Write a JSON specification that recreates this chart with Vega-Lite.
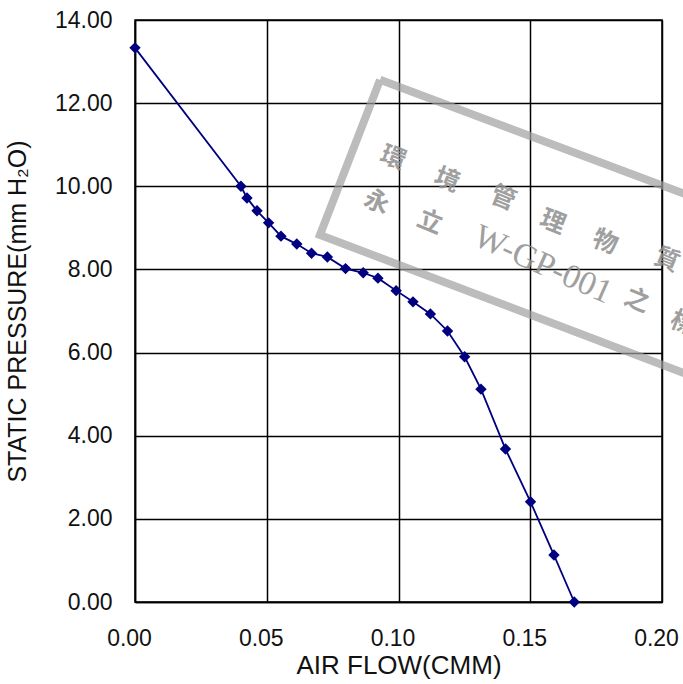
{
  "$schema": "https://vega.github.io/schema/vega-lite/v6.json",
  "autosize": {"type": "none"},
  "padding": {"left": 135, "top": 20, "right": 21, "bottom": 82},
  "width": 527,
  "height": 582,
  "background": "white",
  "config": {
    "view": {"stroke": "#000", "strokeWidth": 1.5},
    "font": "Liberation Sans"
  },
  "datasets": {
    "curve": [
      {"flow": 0.0, "pressure": 13.33},
      {"flow": 0.0402, "pressure": 10.0},
      {"flow": 0.0425, "pressure": 9.72},
      {"flow": 0.0463, "pressure": 9.41},
      {"flow": 0.0507, "pressure": 9.12},
      {"flow": 0.0554, "pressure": 8.8},
      {"flow": 0.0614, "pressure": 8.61},
      {"flow": 0.0670, "pressure": 8.39},
      {"flow": 0.0730, "pressure": 8.3},
      {"flow": 0.0799, "pressure": 8.02},
      {"flow": 0.0866, "pressure": 7.92},
      {"flow": 0.0922, "pressure": 7.79},
      {"flow": 0.0991, "pressure": 7.49},
      {"flow": 0.1055, "pressure": 7.22},
      {"flow": 0.1121, "pressure": 6.93},
      {"flow": 0.1186, "pressure": 6.52},
      {"flow": 0.1251, "pressure": 5.9},
      {"flow": 0.1313, "pressure": 5.12},
      {"flow": 0.1406, "pressure": 3.68},
      {"flow": 0.1501, "pressure": 2.41},
      {"flow": 0.1590, "pressure": 1.13},
      {"flow": 0.1667, "pressure": 0.0}
    ],
    "stampBox": [
      {"i": 0, "flow": 0.0930, "pressure": 12.56},
      {"i": 1, "flow": 0.2372, "pressure": 9.14},
      {"i": 2, "flow": 0.2372, "pressure": 4.81},
      {"i": 3, "flow": 0.0702, "pressure": 8.83},
      {"i": 4, "flow": 0.0930, "pressure": 12.56}
    ],
    "stampCjk": [
      {"t": "環", "flow": 0.0979, "pressure": 10.68},
      {"t": "境", "flow": 0.1184, "pressure": 10.15},
      {"t": "管", "flow": 0.1397, "pressure": 9.72},
      {"t": "理", "flow": 0.1586, "pressure": 9.14},
      {"t": "物", "flow": 0.1784, "pressure": 8.66},
      {"t": "質", "flow": 0.2019, "pressure": 8.23},
      {"t": "永", "flow": 0.0918, "pressure": 9.62},
      {"t": "立", "flow": 0.1120, "pressure": 9.14},
      {"t": "之", "flow": 0.1905, "pressure": 7.26},
      {"t": "標", "flow": 0.2080, "pressure": 6.71}
    ],
    "stampCode": [
      {"t": "W-GP-001", "flow": 0.1548, "pressure": 8.11}
    ]
  },
  "encoding": {
    "x": {
      "field": "flow", "type": "quantitative",
      "scale": {"domain": [0, 0.2], "nice": false, "zero": false},
      "axis": {
        "values": [0, 0.05, 0.1, 0.15, 0.2],
        "format": ".2f",
        "grid": true, "gridColor": "#000", "gridWidth": 1.5, "gridOpacity": 1,
        "domain": true, "domainColor": "#000", "domainWidth": 1.5,
        "ticks": false,
        "labelFlush": false,
        "labelFont": "Liberation Sans", "labelFontSize": 23, "labelColor": "#111",
        "labelPadding": 25, "labelOffset": -6,
        "title": "AIR FLOW(CMM)",
        "titleFont": "Liberation Sans", "titleFontSize": 26, "titleFontWeight": "normal", "titleColor": "#111",
        "titlePadding": 2
      }
    },
    "y": {
      "field": "pressure", "type": "quantitative",
      "scale": {"domain": [0, 14], "nice": false, "zero": false},
      "axis": {
        "values": [0, 2, 4, 6, 8, 10, 12, 14],
        "format": ".2f",
        "grid": true, "gridColor": "#000", "gridWidth": 1.5, "gridOpacity": 1,
        "domain": true, "domainColor": "#000", "domainWidth": 1.5,
        "ticks": false,
        "labelFlush": false,
        "labelFont": "Liberation Sans", "labelFontSize": 23, "labelColor": "#111",
        "labelPadding": 23,
        "title": "STATIC PRESSURE(mm H₂O)",
        "titleFont": "Liberation Sans", "titleFontSize": 25, "titleFontWeight": "normal", "titleColor": "#111",
        "titlePadding": 24
      }
    }
  },
  "layer": [
    {
      "data": {"name": "curve"},
      "mark": {"type": "line", "color": "#000080", "strokeWidth": 1.8}
    },
    {
      "data": {"name": "curve"},
      "mark": {"type": "point", "shape": "diamond", "filled": true, "color": "#000080", "size": 130, "opacity": 1}
    },
    {
      "data": {"name": "stampBox"},
      "mark": {"type": "line", "color": "#a0a0a0", "strokeWidth": 8, "opacity": 0.7, "strokeJoin": "miter", "clip": false},
      "encoding": {"order": {"field": "i", "type": "quantitative"}}
    },
    {
      "data": {"name": "stampCjk"},
      "mark": {"type": "text", "font": "Noto Sans CJK TC", "fontSize": 25, "fontWeight": "bold", "color": "#8f8f8f", "angle": 22, "align": "center", "baseline": "middle", "opacity": 0.85},
      "encoding": {"text": {"field": "t"}}
    },
    {
      "data": {"name": "stampCode"},
      "mark": {"type": "text", "font": "Liberation Serif", "fontSize": 34, "color": "#8f8f8f", "angle": 24, "align": "center", "baseline": "middle", "opacity": 0.85},
      "encoding": {"text": {"field": "t"}}
    }
  ]
}
